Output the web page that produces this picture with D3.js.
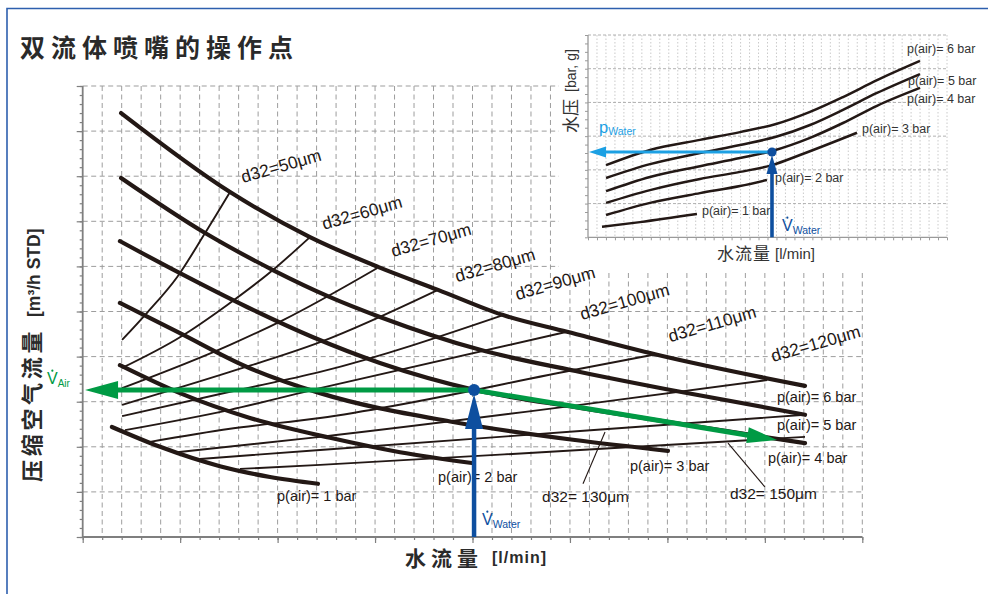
<!DOCTYPE html>
<html><head><meta charset="utf-8">
<script src="https://cdn.jsdelivr.net/npm/d3@7/dist/d3.min.js"></script>
<style>body{margin:0;background:#fff}svg{display:block}</style>
</head><body>
<svg id="c" width="988" height="594"></svg>
<script>
// ---------------- DATA ----------------
const title = "双流体喷嘴的操作点";
const yAxisTitle = "压缩空气流量";
const yAxisUnit = "[m³/h STD]";
const xAxisTitle = "水流量";
const xAxisUnit = "[l/min]";
const insetYTitle = "水压";
const insetYUnit = "[bar, g]";

// main diagram: air flow (y, 0-10 grid units) vs water flow (x, 0-40 grid units)
const pAir1 = [[1.50,2.44],[3.97,2.00],[7.04,1.57],[9.61,1.33],[12.07,1.18]];
const pAir2 = [[1.91,3.81],[4.99,3.19],[8.58,2.64],[12.69,2.20],[16.28,1.88],[19.97,1.64]];
const pAir3 = [[1.91,5.19],[4.99,4.52],[8.43,3.77],[12.18,3.19],[19.00,2.55],[25.26,2.15],[30.03,1.91]];
const pAir4 = [[1.91,6.56],[4.99,5.85],[8.43,5.10],[11.82,4.43],[15.25,3.86],[20.13,3.26],[25.52,2.86],[30.65,2.51],[37.06,2.08]];
const pAir5 = [[1.97,7.96],[6.28,6.74],[9.76,5.92],[12.69,5.32],[15.25,4.88],[20.39,4.15],[25.52,3.66],[30.65,3.22],[37.06,2.71]];
const pAir6 = [[1.97,9.40],[7.56,7.65],[11.66,6.65],[15.15,5.99],[18.23,5.48],[21.57,4.92],[24.85,4.55],[29.47,4.04],[37.06,3.35]];
const pAirLabels = ["p(air)= 1 bar","p(air)= 2 bar","p(air)= 3 bar","p(air)= 4 bar","p(air)= 5 bar","p(air)= 6 bar"];

const d32_50  = [[2.02,4.37],[3.30,4.97],[4.84,5.76],[6.28,6.74],[7.56,7.65]];
const d32_60  = [[2.02,3.75],[4.99,4.43],[7.40,5.14],[9.76,5.92],[11.66,6.65]];
const d32_70  = [[2.02,3.30],[7.56,4.26],[10.28,4.81],[15.10,5.96]];
const d32_80  = [[2.02,2.93],[7.56,3.66],[12.18,4.32],[18.23,5.48]];
const d32_90  = [[2.02,2.68],[7.56,3.22],[12.18,3.66],[21.57,4.92]];
const d32_100 = [[2.17,2.37],[7.56,2.82],[12.18,3.30],[24.85,4.55]];
const d32_110 = [[3.45,2.11],[7.56,2.40],[12.18,2.64],[25.52,3.73],[29.52,4.06]];
const d32_120 = [[4.84,1.88],[12.18,2.22],[25.52,2.93],[35.12,3.48]];
const d32_130 = [[6.02,1.73],[12.18,1.93],[25.52,2.35],[37.06,2.71]];
const d32_150 = [[8.07,1.51],[12.18,1.60],[25.52,1.93],[37.06,2.22]];
const d32TopLabels = ["d32=50μm","d32=60μm","d32=70μm","d32=80μm","d32=90μm","d32=100μm","d32=110μm","d32=120μm"];
const d32BottomLabels = ["d32= 130μm","d32= 150μm"];

const operatingPoint = [20.08, 3.26];
const airFlowRead = [0.12, 3.26];
const shiftTarget = [35.63, 2.15];

// inset: water pressure (y, 0-6) vs water flow (x, 0-40)
const insetP1 = [[1.56,0.31],[5.79,0.45],[12.14,0.69]];
const insetP2 = [[2.01,0.66],[6.91,1.02],[12.48,1.31],[16.94,1.52],[19.94,1.70]];
const insetP3 = [[2.01,1.02],[6.91,1.40],[12.48,1.73],[16.94,1.94],[20.50,2.14],[23.62,2.44],[29.97,3.10]];
const insetP4 = [[2.01,1.37],[6.91,1.79],[12.48,2.11],[16.94,2.35],[20.50,2.56],[24.74,2.95],[28.41,3.39],[32.20,3.90],[36.99,4.43]];
const insetP5 = [[2.01,1.76],[6.91,2.17],[12.48,2.50],[16.94,2.74],[20.95,2.98],[24.74,3.33],[28.41,3.78],[32.20,4.28],[36.99,4.84]];
const insetP6 = [[2.01,2.14],[6.91,2.59],[12.48,2.89],[16.94,3.12],[20.95,3.36],[24.74,3.72],[28.41,4.16],[32.20,4.66],[36.99,5.23]];
const insetOperatingPoint = [20.50, 2.53];
const insetPressureRead = [0.11, 2.53];

// ---------------- LAYOUT / STYLE ----------------
const font = "'Liberation Sans', Arial, Helvetica, sans-serif";
const cjk = "'Noto Sans CJK SC', 'Noto Sans CJK JP', sans-serif";
const ink = "#231815", green = "#009a44", blue = "#0e4f9f", lightBlue = "#1ca0e3";
const gridCol = "#9d9d9d", axisCol = "#7f7f7f";

const pLabelAnchors = [[9.97,0.80],[18.23,1.22],[28.08,1.46],[35.16,1.64],[35.62,2.37],[35.62,2.99]];
const topLabelAnchors = [[8.23,7.85],[12.38,6.81],[15.92,6.21],[19.21,5.65],[22.29,5.25],[25.62,4.81],[30.14,4.32],[35.42,3.88]];
const bottomLabelAnchors = [[23.57,0.78],[33.21,0.84]];
const leaders = [[[26.80,2.33],[25.67,1.18]],[[33.11,2.08],[35.00,1.11]]];
const insetLabelAnchors = [[12.70,0.66],[20.84,1.65],[30.53,3.08],[35.54,3.99],[35.65,4.52],[35.54,5.47]];

const svg = d3.select("#c");

// frame
svg.append("path").attr("d","M7,594V8.5H988").attr("fill","none").attr("stroke","#2d5fae").attr("stroke-width",1.6);

// title
svg.append("text").attr("x",20).attr("y",57).text(title)
  .attr("font-family",cjk).attr("font-weight",700).attr("font-size",25)
  .attr("letter-spacing",6).attr("fill","#2a2a2a");

// ---------------- MAIN CHART ----------------
const x = d3.scaleLinear().domain([0,40]).range([82.7,862.3]);
const y = d3.scaleLinear().domain([0,10]).range([537,86]);
const g = svg.append("g");

// grid
g.append("g").selectAll("line").data(d3.range(1,41)).join("line")
  .attr("x1",d=>x(d)).attr("x2",d=>x(d)).attr("y1",y(10)).attr("y2",y(0))
  .attr("stroke",gridCol).attr("stroke-width",1).attr("stroke-dasharray","5,3.5");
g.append("g").selectAll("line").data(d3.range(1,11)).join("line")
  .attr("x1",x(0)).attr("x2",x(40)).attr("y1",d=>y(d)).attr("y2",d=>y(d))
  .attr("stroke",gridCol).attr("stroke-width",1).attr("stroke-dasharray","5,3.5");

// axes
function styleAxis(s){ s.select(".domain").remove(); s.selectAll("line").attr("stroke",axisCol).attr("stroke-width",1.2); }
g.append("g").attr("transform",`translate(${x(0)},0)`)
  .call(d3.axisLeft(y).tickValues(d3.range(0,10.001,0.2)).tickSize(3).tickFormat("")).call(styleAxis);
g.append("g").attr("transform",`translate(${x(0)},0)`)
  .call(d3.axisLeft(y).tickValues(d3.range(0,11,1)).tickSize(6).tickFormat("")).call(styleAxis);
g.append("g").attr("transform",`translate(0,${y(0)})`)
  .call(d3.axisBottom(x).tickValues(d3.range(0,41,1)).tickSize(3).tickFormat("")).call(styleAxis);
g.append("g").attr("transform",`translate(0,${y(0)})`)
  .call(d3.axisBottom(x).tickValues(d3.range(0,41,5)).tickSize(6).tickFormat("")).call(styleAxis);
g.append("line").attr("x1",x(0)).attr("x2",x(0)).attr("y1",y(10)).attr("y2",y(0)).attr("stroke",axisCol).attr("stroke-width",1.8);
g.append("line").attr("x1",x(0)).attr("x2",x(40)).attr("y1",y(0)).attr("y2",y(0)).attr("stroke",axisCol).attr("stroke-width",1.8);

const line = d3.line().x(d=>x(d[0])).y(d=>y(d[1])).curve(d3.curveMonotoneX);
const d32Lines = [d32_50,d32_60,d32_70,d32_80,d32_90,d32_100,d32_110,d32_120,d32_130,d32_150];
const pAirLines = [pAir1,pAir2,pAir3,pAir4,pAir5,pAir6];

g.append("g").selectAll("path").data(d32Lines).join("path")
  .attr("d",line).attr("fill","none").attr("stroke",ink).attr("stroke-width",1.9);
g.append("g").selectAll("path").data(pAirLines).join("path")
  .attr("d",line).attr("fill","none").attr("stroke",ink).attr("stroke-width",4.2).attr("stroke-linecap","round");

// leader lines
g.append("g").selectAll("line").data(leaders).join("line")
  .attr("x1",d=>x(d[0][0])).attr("y1",d=>y(d[0][1])).attr("x2",d=>x(d[1][0])).attr("y2",d=>y(d[1][1]))
  .attr("stroke",ink).attr("stroke-width",1.1);

// labels
g.append("g").selectAll("text").data(pAirLabels).join("text")
  .attr("x",(d,i)=>x(pLabelAnchors[i][0])).attr("y",(d,i)=>y(pLabelAnchors[i][1]))
  .text(d=>d).attr("font-family",font).attr("font-size",14.5).attr("fill",ink);
g.append("g").selectAll("text").data(d32BottomLabels).join("text")
  .attr("x",(d,i)=>x(bottomLabelAnchors[i][0])).attr("y",(d,i)=>y(bottomLabelAnchors[i][1]))
  .text(d=>d).attr("font-family",font).attr("font-size",15.5).attr("fill",ink);
g.append("g").selectAll("text").data(d32TopLabels).join("text")
  .attr("transform",(d,i)=>`translate(${x(topLabelAnchors[i][0])},${y(topLabelAnchors[i][1])}) rotate(-16)`)
  .text(d=>d).attr("font-family",font).attr("font-size",17.3).attr("fill",ink);

// arrows
function arrow(sel,x0,y0,x1,y1,color,width,headLen,headHalf){
  const dx=x1-x0, dy=y1-y0, L=Math.hypot(dx,dy), ux=dx/L, uy=dy/L;
  const bx=x1-ux*headLen, by=y1-uy*headLen;
  sel.append("line").attr("x1",x0).attr("y1",y0).attr("x2",bx+ux*2).attr("y2",by+uy*2)
    .attr("stroke",color).attr("stroke-width",width);
  sel.append("path").attr("d",`M${x1},${y1}L${bx-uy*headHalf},${by+ux*headHalf}L${bx+uy*headHalf},${by-ux*headHalf}Z`).attr("fill",color);
}
const ox = x(operatingPoint[0]), oy = y(operatingPoint[1]);
arrow(g, ox, oy, x(airFlowRead[0]), y(airFlowRead[1]), green, 5, 33, 9);
arrow(g, ox, oy, x(shiftTarget[0]), y(shiftTarget[1]), green, 5, 30, 8);
arrow(g, ox, y(0), ox, oy+4, blue, 4.5, 35, 9);
g.append("circle").attr("cx",ox).attr("cy",oy).attr("r",6).attr("fill",blue);

// V-dot labels (flow-rate symbol with a dot above the V)
function vdot(sel,px,py,sub,color,big,small){
  const t = sel.append("text").attr("x",px).attr("y",py).attr("font-family",font).attr("fill",color);
  t.append("tspan").attr("font-size",big).text("V");
  t.append("tspan").attr("font-size",small).attr("dy",3).text(sub);
  sel.append("circle").attr("cx",px+big*0.335).attr("cy",py-big*0.83).attr("r",1.1).attr("fill",color);
}
vdot(g, 47, 384, "Air", green, 16, 10);
vdot(g, 482, 525, "Water", blue, 16, 10.5);

// axis titles
svg.append("text").attr("transform","translate(40,482) rotate(-90)").text(yAxisTitle)
  .attr("font-family",cjk).attr("font-weight",700).attr("font-size",22).attr("letter-spacing",3.7).attr("fill","#2a2a2a");
svg.append("text").attr("transform","translate(39.5,317) rotate(-90)").text(yAxisUnit)
  .attr("font-family",font).attr("font-weight",700).attr("font-size",17.5).attr("fill","#2a2a2a");
svg.append("text").attr("x",405).attr("y",566).text(xAxisTitle)
  .attr("font-family",cjk).attr("font-weight",700).attr("font-size",21).attr("letter-spacing",5).attr("fill","#2a2a2a");
svg.append("text").attr("x",492).attr("y",563).text(xAxisUnit)
  .attr("font-family",font).attr("font-weight",700).attr("font-size",16).attr("letter-spacing",1).attr("fill","#2a2a2a");

// ---------------- INSET ----------------
const ins = svg.append("g");
ins.append("rect").attr("x",559).attr("y",18).attr("width",429).attr("height",252).attr("fill","#fff");
const ix = d3.scaleLinear().domain([0,40]).range([588,947]);
const iy = d3.scaleLinear().domain([0,6]).range([237.3,35]);

ins.append("g").selectAll("line").data(d3.range(1,41)).join("line")
  .attr("x1",d=>ix(d)).attr("x2",d=>ix(d)).attr("y1",iy(6)).attr("y2",iy(0))
  .attr("stroke","#c4c4c4").attr("stroke-width",0.9).attr("stroke-dasharray","1.5,2");
ins.append("g").selectAll("line").data(d3.range(1,7)).join("line")
  .attr("x1",ix(0)).attr("x2",ix(40)).attr("y1",d=>iy(d)).attr("y2",d=>iy(d))
  .attr("stroke","#a8a8a8").attr("stroke-width",0.9).attr("stroke-dasharray","3,2");
function styleInsetAxis(s){ s.select(".domain").remove(); s.selectAll("line").attr("stroke","#9a9a9a").attr("stroke-width",1); }
ins.append("g").attr("transform",`translate(${ix(0)},0)`)
  .call(d3.axisLeft(iy).tickValues(d3.range(0,6.001,0.25)).tickSize(3).tickFormat("")).call(styleInsetAxis);
ins.append("g").attr("transform",`translate(0,${iy(0)})`)
  .call(d3.axisBottom(ix).tickValues(d3.range(0,41,1)).tickSize(3).tickFormat("")).call(styleInsetAxis);
ins.append("line").attr("x1",ix(0)).attr("x2",ix(0)).attr("y1",iy(6)).attr("y2",iy(0)).attr("stroke","#9a9a9a").attr("stroke-width",1.3);
ins.append("line").attr("x1",ix(0)).attr("x2",ix(40)).attr("y1",iy(0)).attr("y2",iy(0)).attr("stroke","#9a9a9a").attr("stroke-width",1.3);

const iline = d3.line().x(d=>ix(d[0])).y(d=>iy(d[1])).curve(d3.curveMonotoneX);
ins.append("g").selectAll("path").data([insetP1,insetP2,insetP3,insetP4,insetP5,insetP6]).join("path")
  .attr("d",iline).attr("fill","none").attr("stroke",ink).attr("stroke-width",2.5);

ins.append("g").selectAll("text").data(pAirLabels).join("text")
  .attr("x",(d,i)=>ix(insetLabelAnchors[i][0])).attr("y",(d,i)=>iy(insetLabelAnchors[i][1]))
  .text(d=>d).attr("font-family",font).attr("font-size",12.5).attr("fill","#333");

const iox = ix(insetOperatingPoint[0]), ioy = iy(insetOperatingPoint[1]);
arrow(ins, iox, ioy, ix(insetPressureRead[0]), iy(insetPressureRead[1]), lightBlue, 3.2, 17, 5.5);
arrow(ins, iox, iy(0), iox, ioy+3, blue, 3.6, 19, 5.5);
ins.append("circle").attr("cx",iox).attr("cy",ioy).attr("r",4.6).attr("fill",blue);

const pw = ins.append("text").attr("x",599).attr("y",133).attr("font-family",font).attr("fill",lightBlue);
pw.append("tspan").attr("font-size",16.5).text("p");
pw.append("tspan").attr("font-size",10.5).attr("dy",2).text("Water");
vdot(ins, 782, 231, "Water", blue, 16, 10.5);

ins.append("text").attr("transform","translate(577,133) rotate(-90)").text(insetYTitle)
  .attr("font-family",cjk).attr("font-size",17).attr("fill","#333");
ins.append("text").attr("transform","translate(576,92) rotate(-90)").text(insetYUnit)
  .attr("font-family",font).attr("font-size",14).attr("fill","#333");
ins.append("text").attr("x",717).attr("y",260).text(xAxisTitle)
  .attr("font-family",cjk).attr("font-size",17).attr("letter-spacing",1).attr("fill","#333");
ins.append("text").attr("x",775).attr("y",259).text(xAxisUnit)
  .attr("font-family",font).attr("font-size",15).attr("fill","#333");
</script>
</body></html>
